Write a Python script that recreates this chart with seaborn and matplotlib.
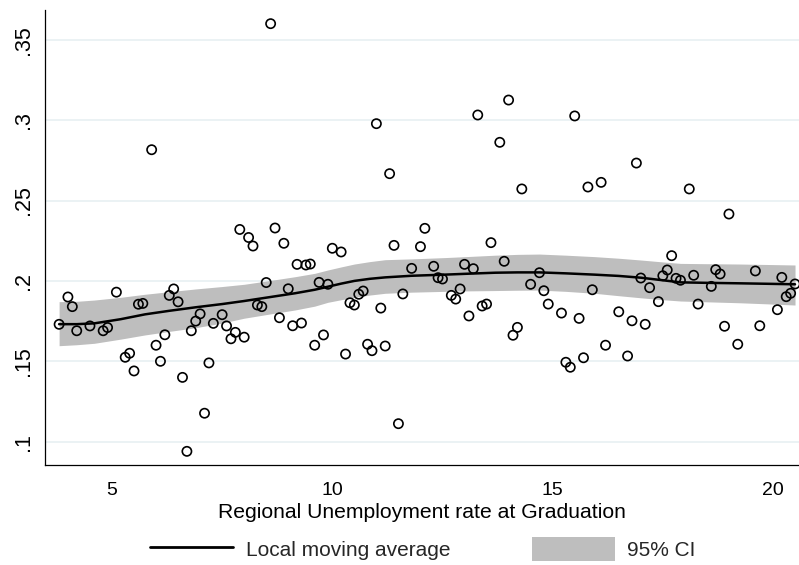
import matplotlib
matplotlib.use("Agg")
import matplotlib.pyplot as plt
from matplotlib.lines import Line2D
from matplotlib.patches import Patch
import seaborn as sns
import pandas as pd

# Observed regions: unemployment rate at graduation vs outcome share
unemp_rate = [
    3.8, 4.0, 4.1, 4.2, 4.5, 4.8, 4.9, 5.1, 5.3, 5.4, 5.5, 5.6, 5.7, 5.9,
    6.0, 6.1, 6.2, 6.3, 6.4, 6.5, 6.6, 6.7, 6.8, 6.9, 7.0, 7.1, 7.2, 7.3,
    7.5, 7.6, 7.7, 7.8, 7.9, 8.0, 8.1, 8.2, 8.3, 8.4, 8.5, 8.6, 8.7, 8.8,
    8.9, 9.0, 9.1, 9.2, 9.3, 9.4, 9.5, 9.6, 9.7, 9.8, 9.9, 10.0, 10.2,
    10.3, 10.4, 10.5, 10.6, 10.7, 10.8, 10.9, 11.0, 11.1, 11.2, 11.3, 11.4,
    11.5, 11.6, 11.8, 12.0, 12.1, 12.3, 12.4, 12.5, 12.7, 12.8, 12.9, 13.0,
    13.1, 13.2, 13.3, 13.4, 13.5, 13.6, 13.8, 13.9, 14.0, 14.1, 14.2, 14.3,
    14.5, 14.7, 14.8, 14.9, 15.2, 15.3, 15.4, 15.5, 15.6, 15.7, 15.8, 15.9,
    16.1, 16.2, 16.5, 16.7, 16.8, 16.9, 17.0, 17.1, 17.2, 17.4, 17.5, 17.6,
    17.7, 17.8, 17.9, 18.1, 18.2, 18.3, 18.6, 18.7, 18.8, 18.9, 19.0, 19.2,
    19.6, 19.7, 20.1, 20.2, 20.3, 20.4, 20.5,
]
outcome = [
    .173, .190, .184, .169, .172, .169, .171, .193, .1525, .155, .144, .1855,
    .186, .2816, .160, .150, .1665, .191, .195, .187, .140, .094, .169, .175,
    .1795, .1177, .149, .1736, .179, .172, .164, .168, .232, .165, .227,
    .2217, .185, .184, .199, .360, .2329, .1771, .2234, .1951, .1721, .2103,
    .1738, .2099, .2105, .160, .1991, .1664, .1979, .2203, .218, .1545,
    .1864, .185, .1917, .1937, .1606, .1566, .2978, .1831, .1595, .2667,
    .2221, .1112, .1919, .2078, .2213, .2327, .2091, .202, .2012, .191,
    .1887, .195, .2103, .1782, .2076, .3032, .1844, .1856, .2238, .2862,
    .2122, .3125, .1662, .1711, .2572, .1979, .2051, .1939, .1856, .180,
    .1494, .1463, .3026, .1767, .1522, .2584, .1945, .2613, .160, .1808,
    .1533, .1752, .2733, .2018, .173, .1958, .1871, .2032, .2068, .2157,
    .2016, .2004, .2572, .2035, .1856, .1966, .207, .2043, .1718, .2416,
    .1606, .2062, .1721, .1821, .2022, .1902, .1923, .1981,
]

# Local moving average with its 95% confidence band
smooth_x = [3.8, 4.2, 4.6, 5.2, 5.75, 6.3, 6.9, 7.5, 8.0, 8.6, 9.15, 9.6,
            9.9, 10.2, 10.5, 10.85, 11.2, 11.8, 12.55, 13.1, 13.7, 14.2,
            14.7, 15.3, 15.95, 16.5, 17.0, 17.5, 17.9, 18.5, 19.25, 19.9, 20.5]
smooth_mean = [.1731, .1731, .1736, .1762, .1792, .1814, .1836, .1856, .1875,
               .1900, .1923, .1945, .1964, .1983, .2000, .2013, .2022, .2032,
               .2039, .2045, .2051, .2053, .2053, .2047, .2039, .2031, .2020,
               .2004, .1991, .1988, .1985, .1982, .1979]
ci_low = [.1597, .1603, .1612, .1638, .1664, .1686, .1709, .1738, .1768,
          .1795, .1819, .1843, .1867, .1883, .1898, .1912, .1923, .1930,
          .1935, .1938, .1940, .1942, .1943, .1935, .1923, .1908, .1895,
          .1883, .1875, .1870, .1864, .1857, .1850]
ci_high = [.1871, .1873, .1881, .1898, .1917, .1933, .1950, .1965, .1979,
           .2003, .2026, .2047, .2068, .2087, .2105, .2120, .2132, .2137,
           .2145, .2152, .2160, .2165, .2167, .2160, .2151, .2141, .2130,
           .2118, .2109, .2107, .2105, .2102, .2099]

x_ticks = [5, 10, 15, 20]
y_ticks = [.10, .15, .20, .25, .30, .35]
y_tick_labels = [".1", ".15", ".2", ".25", ".3", ".35"]

x_title = "Regional Unemployment rate at Graduation"
legend_labels = ["Local moving average", "95% CI"]

sns.set_style("white")
plt.rcParams["font.family"] = ["Liberation Sans", "DejaVu Sans"]

points = pd.DataFrame({"rate": unemp_rate, "share": outcome})
smooth = pd.DataFrame({"rate": smooth_x, "mean": smooth_mean,
                       "lo": ci_low, "hi": ci_high})

band_color = "#bebebe"
grid_color = "#e8f0f2"

fig = plt.figure(figsize=(7.99, 5.65), dpi=100)
ax = fig.add_axes([45 / 799, 100 / 565, 754 / 799, 455 / 565])

ax.fill_between(smooth["rate"], smooth["lo"], smooth["hi"],
                color=band_color, linewidth=0, zorder=1)
sns.lineplot(data=smooth, x="rate", y="mean", color="black", linewidth=1.8,
             ax=ax, zorder=3, legend=False)
sns.scatterplot(data=points, x="rate", y="share", marker="o", s=44,
                facecolor="none", edgecolor="black", linewidth=1.2,
                ax=ax, zorder=4, legend=False)

ax.set_xlim(3.48, 20.59)
ax.set_ylim(0.0855, 0.3685)

ax.set_yticks(y_ticks)
ax.set_yticklabels(y_tick_labels, rotation=90, va="center")
ax.set_xticks(x_ticks)
ax.set_xticklabels([str(t) for t in x_ticks])

ax.yaxis.grid(True, color=grid_color, linewidth=1.2, zorder=0)
ax.xaxis.grid(False)
ax.set_axisbelow(True)

for side in ("top", "right"):
    ax.spines[side].set_visible(False)
for side in ("left", "bottom"):
    ax.spines[side].set_color("black")
    ax.spines[side].set_linewidth(0.9)

ax.tick_params(axis="both", which="major", direction="out", length=6.5,
               width=0.8, color="black", labelcolor="black")
ax.tick_params(axis="x", pad=6, labelsize=14)
ax.tick_params(axis="y", pad=1.5, labelsize=15.5)

ax.set_xlabel(x_title, fontsize=15.2, color="black", labelpad=2.5)
ax.set_ylabel("")

handles = [
    Line2D([0], [0], color="black", linewidth=2.0),
    Patch(facecolor=band_color, edgecolor="none"),
]
fig.legend(handles, legend_labels, loc="center left",
           bbox_to_anchor=(150 / 799, 1 - 549 / 565), ncol=2, frameon=False,
           fontsize=15, handlelength=4.0, handleheight=1.35,
           handletextpad=0.6, columnspacing=3.9, borderpad=0,
           borderaxespad=0)

fig.savefig("out.png", dpi=100)
